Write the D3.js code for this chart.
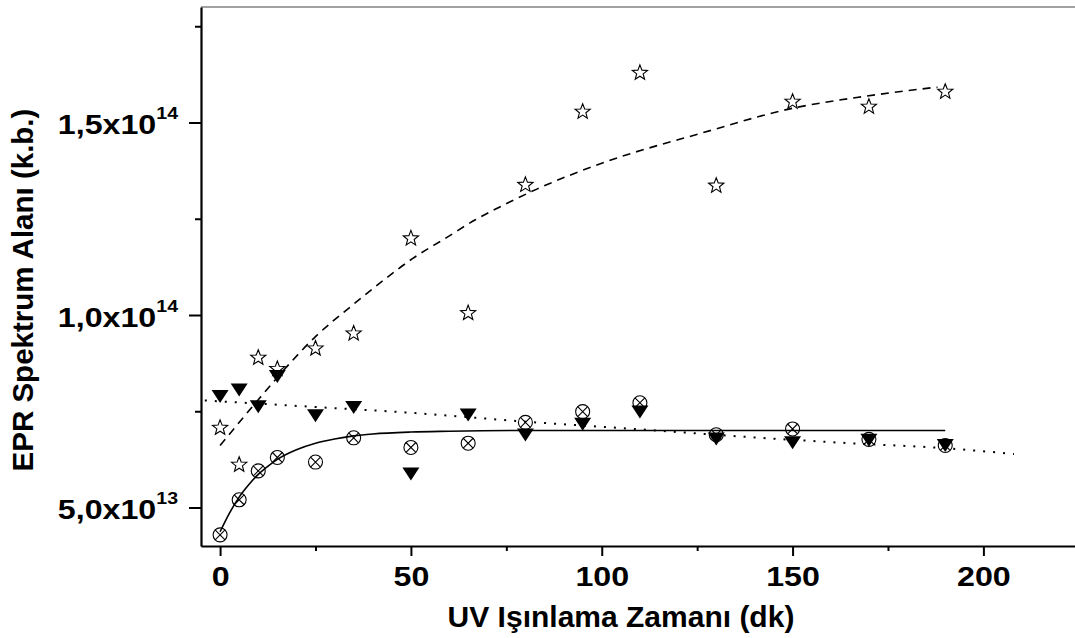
<!DOCTYPE html>
<html>
<head>
<meta charset="utf-8">
<script src="https://cdn.jsdelivr.net/npm/d3@7"></script>
<style>
  html, body { margin: 0; padding: 0; background: #fff; }
  svg { display: block; font-family: "Liberation Sans", Arial, sans-serif; }
</style>
</head>
<body>
<svg id="chart" width="1075" height="638"></svg>
<script>
// ---- data (values in units of 1e13) ----
const times = [0, 5, 10, 15, 25, 35, 50, 65, 80, 95, 110, 130, 150, 170, 190];
const starVals = [7.09, 6.13, 8.91, 8.62, 9.15, 9.54, 12.01, 10.07, 13.4, 15.3, 16.31, 13.38, 15.56, 15.43, 15.82];
const triVals = [7.88, 8.05, 7.62, 8.40, 7.38, 7.60, 5.87, 7.40, 6.88, 7.16, 7.48, 6.78, 6.68, 6.75, 6.61];
const circVals = [4.29, 5.20, 5.95, 6.30, 6.18, 6.81, 6.56, 6.67, 7.21, 7.49, 7.72, 6.89, 7.04, 6.77, 6.61];

// fitted curves
const solidFitX = [0, 2.5, 5, 7.5, 10, 12.5, 15, 20, 25, 30, 35, 40, 50, 60, 80, 100, 190];
const solidFitY = [4.37, 4.86, 5.27, 5.59, 5.86, 6.07, 6.25, 6.50, 6.67, 6.78, 6.86, 6.91, 6.96, 6.98, 7.0, 7.0, 7.0];
const dashFitX = [0, 10, 18.7, 25, 34, 42, 50.5, 59, 67, 76, 83, 102, 126, 150, 169, 188];
const dashFitY = [6.61, 7.80, 8.79, 9.44, 10.20, 10.84, 11.47, 11.99, 12.48, 12.94, 13.27, 14.01, 14.72, 15.37, 15.68, 15.92];
const dotFitX = [-4, 25, 50, 80, 110, 140, 165, 190, 208];
const dotFitY = [7.78, 7.61, 7.46, 7.23, 7.03, 6.82, 6.67, 6.54, 6.39];

const xTicks = [0, 50, 100, 150, 200];
const xMinorTicks = [25, 75, 125, 175];
const yTicks = [5e13, 1e14, 1.5e14];
const yMinorTicks = [7.5e13, 1.25e14, 1.75e14];
const yTickMant = ["5,0", "1,0", "1,5"];
const yTickExp = ["13", "14", "14"];
const xLabel = "UV Işınlama Zamanı (dk)";
const yLabel = "EPR Spektrum Alanı (k.b.)";
const E = 1e13;

// ---- layout ----
const svg = d3.select("#chart");
const x = d3.scaleLinear().domain([-5, 224]).range([201, 1075]);
const y = d3.scaleLinear().domain([4e13, 1.8e14]).range([546, 7]);

// top frame line
svg.append("line")
  .attr("x1", x.range()[0]).attr("x2", x.range()[1])
  .attr("y1", y.range()[1]).attr("y2", y.range()[1])
  .attr("stroke", "#444").attr("stroke-width", 1.2);

// x axis
const gx = svg.append("g").attr("transform", `translate(0,${y.range()[0]})`);
gx.call(d3.axisBottom(x).tickValues(xTicks).tickSize(10).tickSizeOuter(0).tickFormat(d => d));
gx.select(".domain").attr("stroke-width", 2.2);
gx.selectAll(".tick line").attr("stroke-width", 2);
gx.selectAll(".tick text")
  .attr("y", 0).attr("dy", 0)
  .attr("transform", "translate(0,40) scale(1.15,1)")
  .attr("font-size", 28).attr("font-weight", "bold").attr("fill", "#000")
  .attr("font-family", "'Liberation Sans', Arial, sans-serif");
const gxm = svg.append("g").attr("transform", `translate(0,${y.range()[0]})`);
gxm.call(d3.axisBottom(x).tickValues(xMinorTicks).tickSize(5).tickSizeOuter(0).tickFormat(""));
gxm.select(".domain").remove();
gxm.selectAll(".tick line").attr("stroke-width", 2);

// y axis
const gy = svg.append("g").attr("transform", `translate(${x.range()[0]},0)`);
gy.call(d3.axisLeft(y).tickValues(yTicks).tickSize(12).tickSizeOuter(0).tickFormat(""));
gy.select(".domain").attr("stroke-width", 2.2);
gy.selectAll(".tick line").attr("stroke-width", 2);
gy.selectAll(".tick").each(function(d, i) {
  const t = d3.select(this).append("text")
    .attr("transform", "translate(-23,11) scale(1.15,1)")
    .attr("text-anchor", "end")
    .attr("fill", "#000")
    .attr("font-weight", "bold")
    .attr("font-family", "'Liberation Sans', Arial, sans-serif")
    .attr("font-size", 28);
  t.append("tspan").text(yTickMant[i] + "x10");
  t.append("tspan").attr("dy", -15).attr("font-size", 17).text(yTickExp[i]);
});
const gym = svg.append("g").attr("transform", `translate(${x.range()[0]},0)`);
gym.call(d3.axisLeft(y).tickValues(yMinorTicks).tickSize(6).tickSizeOuter(0).tickFormat(""));
gym.select(".domain").remove();
gym.selectAll(".tick line").attr("stroke-width", 2);

// axis titles
svg.append("text")
  .attr("x", 621).attr("y", 627)
  .attr("text-anchor", "middle")
  .attr("font-size", 30).attr("font-weight", "bold").attr("fill", "#000")
  .text(xLabel);
svg.append("text")
  .attr("transform", "translate(33,290) rotate(-90)")
  .attr("text-anchor", "middle")
  .attr("font-size", 29.5).attr("font-weight", "bold").attr("fill", "#000")
  .text(yLabel);

// fit lines
const lineGen = d3.line().x(d => x(d[0])).y(d => y(d[1] * E)).curve(d3.curveMonotoneX);
svg.append("path")
  .datum(solidFitX.map((v, i) => [v, solidFitY[i]]))
  .attr("d", lineGen).attr("fill", "none").attr("stroke", "#000").attr("stroke-width", 1.6);
svg.append("path")
  .datum(dashFitX.map((v, i) => [v, dashFitY[i]]))
  .attr("d", lineGen).attr("fill", "none").attr("stroke", "#000").attr("stroke-width", 1.6)
  .attr("stroke-dasharray", "8,6");
svg.append("path")
  .datum(dotFitX.map((v, i) => [v, dotFitY[i]]))
  .attr("d", lineGen).attr("fill", "none").attr("stroke", "#000").attr("stroke-width", 2)
  .attr("stroke-dasharray", "2,8");

// markers: circles with X
const circG = svg.append("g");
times.forEach((t, i) => {
  const g = circG.append("g").attr("transform", `translate(${x(t)},${y(circVals[i] * E)})`);
  const r = 7, k = r * Math.SQRT1_2;
  g.append("circle").attr("r", r).attr("fill", "none").attr("stroke", "#000").attr("stroke-width", 1.1);
  g.append("path").attr("d", `M${-k},${-k}L${k},${k}M${-k},${k}L${k},${-k}`)
    .attr("stroke", "#000").attr("stroke-width", 1.1);
});

// markers: filled down-triangles
svg.append("g").selectAll("path")
  .data(times.map((t, i) => [t, triVals[i]]))
  .join("path")
  .attr("transform", d => `translate(${x(d[0])},${y(d[1] * E)})`)
  .attr("d", "M-8.5,-6.5L8.5,-6.5L0,6.5Z")
  .attr("fill", "#000");

// markers: open stars
const starPath = (() => {
  const pts = [];
  const R = 8, r = 3.4;
  for (let j = 0; j < 10; j++) {
    const a = -Math.PI / 2 + j * Math.PI / 5;
    const rr = j % 2 === 0 ? R : r;
    pts.push([rr * Math.cos(a), rr * Math.sin(a) + 0.8]);
  }
  return "M" + pts.map(p => p[0].toFixed(2) + "," + p[1].toFixed(2)).join("L") + "Z";
})();
svg.append("g").selectAll("path")
  .data(times.map((t, i) => [t, starVals[i]]))
  .join("path")
  .attr("transform", d => `translate(${x(d[0])},${y(d[1] * E)})`)
  .attr("d", starPath)
  .attr("fill", "none").attr("stroke", "#000").attr("stroke-width", 1.1)
  .attr("stroke-linejoin", "miter");
</script>
</body>
</html>
